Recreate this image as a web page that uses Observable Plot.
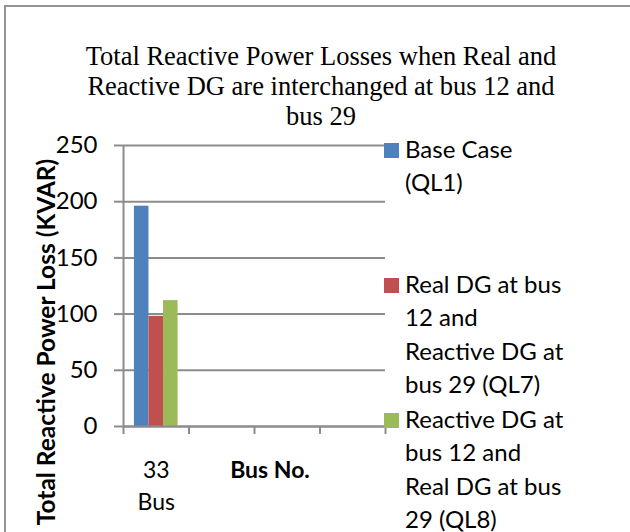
<!DOCTYPE html>
<html>
<head>
<meta charset="utf-8">
<script src="https://cdn.jsdelivr.net/npm/d3@7"></script>
<script src="https://cdn.jsdelivr.net/npm/@observablehq/plot@0.6"></script>
<style>
html, body { margin: 0; padding: 0; background: #fff; }
#wrap { position: relative; width: 630px; height: 532px; overflow: hidden; background: #fff; }
#wrap > svg { position: absolute; left: 0; top: 0; }
#overlay { pointer-events: none; }
</style>
</head>
<body>
<div id="wrap"></div>
<script>
// ---- data ----
const titleLines = ["Total Reactive Power Losses when Real and", "Reactive DG are interchanged at bus 12 and", "bus 29"];
const yAxisTitle = "Total Reactive Power Loss (KVAR)";
const xAxisTitle = "Bus No.";
const categories = ["33\nBus", "", "", ""];
const seriesNames = [
  "Base Case\n(QL1)",
  "Real DG at bus\n12 and\nReactive DG at\nbus 29 (QL7)",
  "Reactive DG at\nbus 12 and\nReal DG at bus\n29 (QL8)"
];
const seriesColors = ["#4F81BD", "#C0504D", "#9BBB59"];
const baseCase = [196, null, null, null];
const ql7 = [98, null, null, null];
const ql8 = [112, null, null, null];
const yTicks = [0, 50, 100, 150, 200, 250];

// ---- build rows ----
const seriesValues = [baseCase, ql7, ql8];
const nS = seriesNames.length;
const barW = 1 / (nS + 1.5);          // Excel gap width 150%
const gap = 0.75 * barW;
const rows = [];
categories.forEach((c, i) => {
  seriesValues.forEach((vals, j) => {
    if (vals[i] != null) rows.push({cat: i, series: seriesNames[j], j, value: vals[i]});
  });
});

const gray = "#8c8c8c";
const sans = "Lato, 'Open Sans', sans-serif";

const plot = Plot.plot({
  width: 630,
  height: 532,
  marginLeft: 123,
  marginRight: 245,
  marginTop: 145,
  marginBottom: 106,
  style: {fontFamily: sans, color: "#000", background: "transparent", overflow: "visible"},
  x: {domain: [0, categories.length], axis: null, label: null},
  y: {domain: [0, 250], axis: null, label: null},
  color: {domain: seriesNames, range: seriesColors},
  marks: [
    Plot.gridY(yTicks, {stroke: gray, strokeOpacity: 1, strokeWidth: 2}),
    Plot.axisY({ticks: yTicks, tickSize: 9, tickFormat: () => "", label: null, stroke: gray, strokeWidth: 2}),
    Plot.axisY({ticks: yTicks, tickSize: 0, tickPadding: 26, fontSize: 24, label: null, fill: "#000"}),
    Plot.rectY(rows, {
      x1: d => d.cat + gap + d.j * barW,
      x2: d => d.cat + gap + (d.j + 1) * barW,
      y1: 0,
      y2: "value",
      fill: "series"
    }),
    Plot.ruleX([0], {stroke: gray, strokeWidth: 2}),
    Plot.ruleY([0], {stroke: gray, strokeWidth: 2}),
    Plot.axisX({ticks: d3.range(categories.length + 1), tickSize: 8, tickFormat: () => "", label: null, stroke: gray, strokeWidth: 2}),
    Plot.axisX({
      ticks: categories.map((c, i) => i + 0.5),
      tickFormat: v => categories[Math.floor(v)],
      tickSize: 0, tickPadding: 29, fontSize: 23, lineHeight: 1.39, label: null, fill: "#000"
    })
  ]
});

const wrap = document.getElementById("wrap");
wrap.appendChild(plot);

// ---- overlay: border, title, axis titles, legend ----
const svg = d3.select(wrap).append("svg")
  .attr("id", "overlay")
  .attr("width", 630).attr("height", 532);

svg.append("path")
  .attr("d", "M5,640 V6 H640")
  .attr("fill", "none").attr("stroke", "#959595").attr("stroke-width", 2);

svg.append("text")
  .attr("text-anchor", "middle")
  .attr("font-family", "'Liberation Serif', 'Times New Roman', serif")
  .attr("font-size", 26.5)
  .selectAll("tspan").data(titleLines).join("tspan")
  .attr("x", 321).attr("y", (d, i) => 65 + i * 30)
  .text(d => d);

svg.append("text")
  .attr("transform", "translate(55,342) rotate(-90)")
  .attr("text-anchor", "middle")
  .attr("font-family", sans).attr("font-weight", "bold").attr("font-size", 24.5)
  .text(yAxisTitle);

svg.append("text")
  .attr("x", 270).attr("y", 478)
  .attr("text-anchor", "middle")
  .attr("font-family", sans).attr("font-weight", "bold").attr("font-size", 23)
  .text(xAxisTitle);

const legend = svg.append("g").attr("font-family", sans).attr("font-size", 24);
const item = legend.selectAll("g").data(seriesNames).join("g")
  .attr("transform", (d, i) => `translate(384,${143 + i * 135})`);
item.append("rect").attr("width", 15).attr("height", 15)
  .attr("fill", (d, i) => seriesColors[i]);
item.append("text")
  .selectAll("tspan").data(d => d.split("\n")).join("tspan")
  .attr("x", 21).attr("y", (d, i) => 15 + i * 33.3)
  .text(d => d);
</script>
</body>
</html>
